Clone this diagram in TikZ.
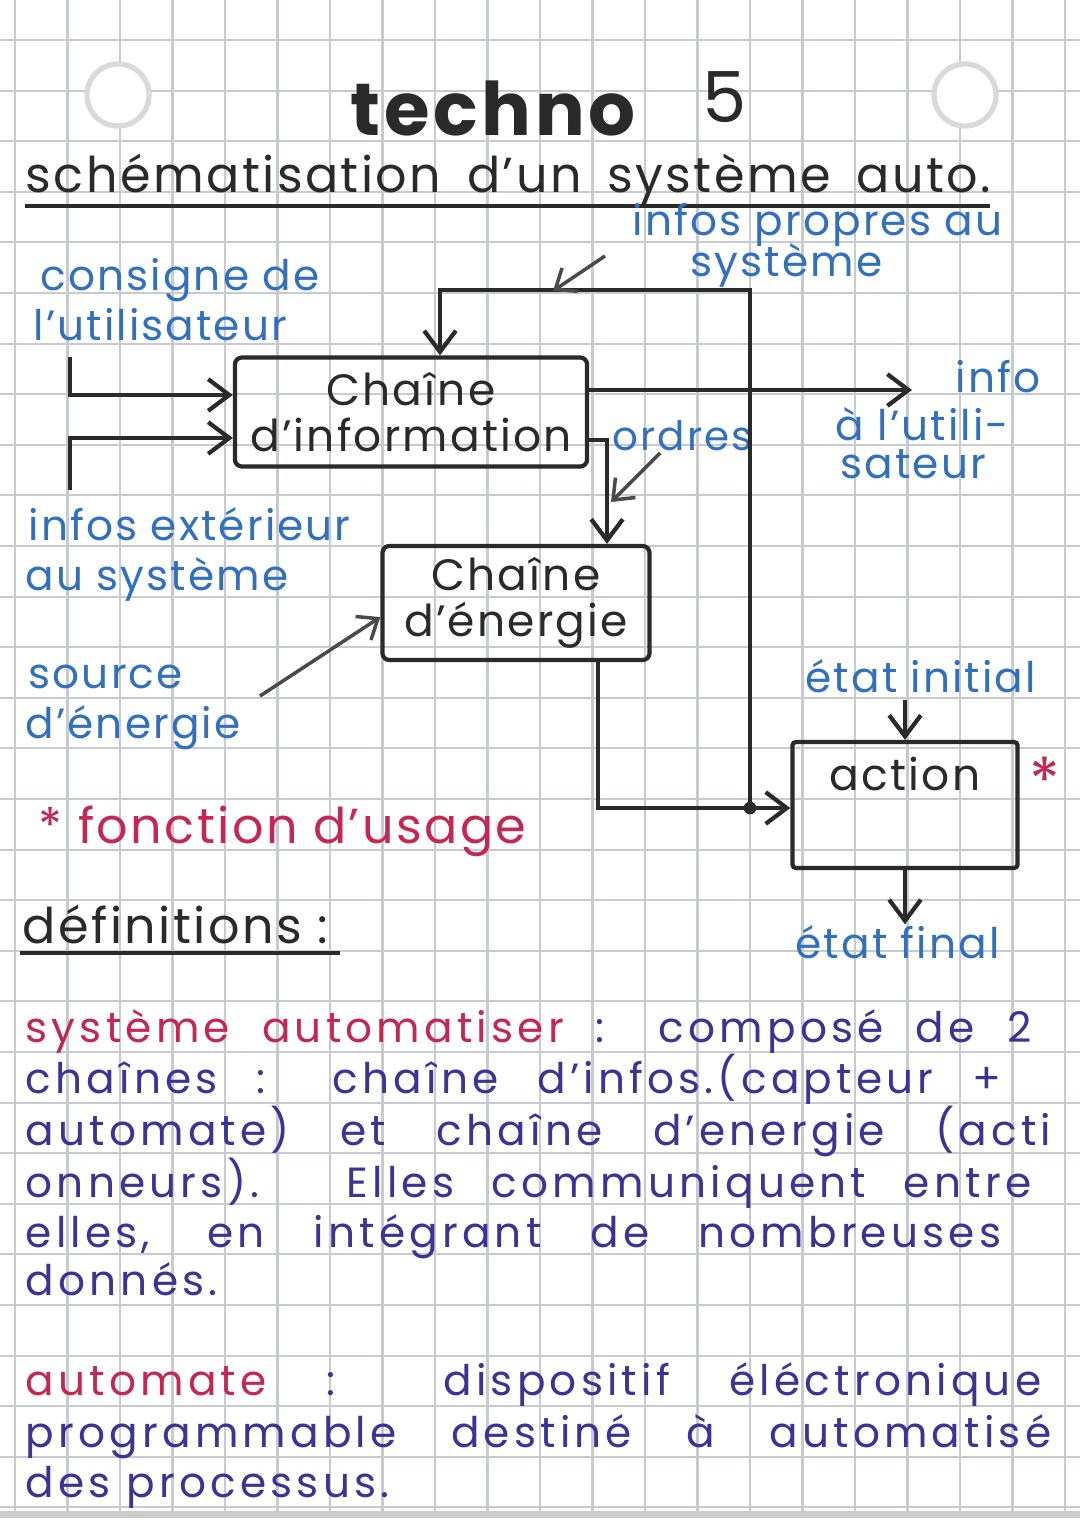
\documentclass[tikz,border=0pt]{standalone}
\usepackage{fontspec}
\setmainfont{Poppins}[LetterSpace=5]
\usetikzlibrary{arrows.meta, positioning}
\definecolor{inkblue}{RGB}{50, 112, 190}
\definecolor{inkred}{RGB}{196, 40, 82}
\definecolor{inkviolet}{RGB}{58, 52, 150}
\definecolor{inkblack}{RGB}{42, 42, 42}
\definecolor{gridgray}{RGB}{200, 202, 210}
\newcommand{\handline}[2]{\makebox[#1][s]{#2}}

\begin{document}
\begin{tikzpicture}[x=0.01cm, y=-0.01cm,
    paperline/.style={gridgray, line width=0.6pt},
    hole/.style={circle, fill=white, draw=gray!30, line width=1.5pt, minimum size=0.62cm},
    chain/.style={rectangle, draw=inkblack, line width=1.2pt, rounded corners=2pt, minimum width=3.52cm, minimum height=1.09cm, align=center, text=inkblack, font=\fontsize{12.5}{13}\selectfont},
    lbl/.style={anchor=base west, inner sep=0pt, text=inkblue, font=\fontsize{12}{14}\selectfont},
    note/.style={anchor=base west, inner sep=0pt, text=inkviolet, font=\fontsize{12}{14}\selectfont\addfontfeature{LetterSpace=10}},
    flow/.style={draw=inkblack, line width=1.2pt, -{Straight Barb[length=6pt, width=9pt]}},
    hint/.style={draw=inkblack!85, line width=1pt, -{Straight Barb[length=5pt, width=8pt]}}
  ]
  \useasboundingbox (0,0) rectangle (1080,1527);
  \fill[white] (0,0) rectangle (1080,1527);
  \foreach \i in {0,...,20}
    \draw[paperline] ({15+52.5*\i},0) -- ({15+52.5*\i},1512);
  \foreach \j in {0,...,29}
    \draw[paperline] (0,{40+50.6*\j}) -- (1080,{40+50.6*\j});
  \draw[gray!40, line width=2pt] (0,1514) -- (1080,1514);

  \node[hole] (holeL) at (118,95) {};
  \node[hole] (holeR) at (965,95) {};

  \node[anchor=base west, inner sep=0pt, text=inkblack, font=\fontsize{21}{24}\selectfont\bfseries] (title) at (350,135) {techno};
  \node[anchor=base west, inner sep=0pt, text=inkblack, font=\fontsize{20}{24}\selectfont] (num) at (702,122) {5};
  \node[anchor=base west, inner sep=0pt, text=inkblack, font=\fontsize{14}{16}\selectfont] (subtitle) at (25,192) {\handline{96.5mm}{schématisation d'un système auto.}};
  \draw[inkblack, line width=1.2pt] (25,206) -- (990,206);

  \node[lbl] (propres) at (632,235) {infos propres au};
  \node[lbl] (propres2) at (690,276) {système};
  \node[lbl] (consigne) at (40,290) {consigne de};
  \node[lbl] (consigne2) at (33,340) {l'utilisateur};
  \node[lbl] (infout) at (955,392) {info};
  \node[lbl] (infout2) at (835,440) {à l'utili-};
  \node[lbl] (infout3) at (840,478) {sateur};
  \node[lbl, font=\fontsize{11.5}{14}\selectfont] (ordres) at (612,450) {ordres};
  \node[lbl] (exterieur) at (28,540) {infos extérieur};
  \node[lbl] (exterieur2) at (25,590) {au système};
  \node[lbl] (source) at (28,688) {source};
  \node[lbl] (source2) at (25,738) {d'énergie};
  \node[lbl] (etatinit) at (805,692) {état initial};
  \node[lbl] (etatfin) at (795,958) {état final};

  \node[chain] (info) at (411,412) {Chaîne\\d'information};
  \node[chain, minimum width=2.67cm, minimum height=1.07cm] (ener) at (516,603) {Chaîne\\d'énergie};
  \node[chain, rounded corners=1pt, anchor=base, minimum width=2.25cm, minimum height=0pt, text height=4.8mm, text depth=7.8mm, inner ysep=0pt] (act) at (905,790) {action};
  \node[text=inkred, font=\fontsize{18}{18}\selectfont] (star) at (1045,780) {*};

  \coordinate (cin) at (70,357);
  \coordinate (cbend) at (70,395);
  \coordinate (xin) at (70,490);
  \coordinate (xbend) at (70,438);
  \coordinate (uout) at (912,390);
  \coordinate (ordc) at (607,440);
  \coordinate (jct) at (750,808);
  \coordinate (fbcorner) at (750,290);
  \coordinate (fbleft) at (440,290);
  \coordinate (eout) at (598,808);
  \coordinate (pp1) at (605,256);
  \coordinate (pp2) at (553,291);
  \coordinate (op1) at (660,453);
  \coordinate (op2) at (611,502);
  \coordinate (srcpt) at (260,696);

  \draw[flow] (cin) -- (cbend) -- (info.west |- cbend);
  \draw[flow] (xin) -- (xbend) -- (info.west |- xbend);
  \draw[flow] (info.east |- uout) -- (uout);
  \draw[flow] (info.east |- ordc) -- (ordc) -- (ordc |- ener.north);
  \draw[flow] (jct) -- (fbcorner) -- (fbleft) -- (fbleft |- info.north);
  \draw[flow] (eout |- ener.south) -- (eout) -- (act.west |- eout);
  \fill[inkblack] (jct) circle (1.8pt);
  \draw[flow] ([yshift=-2pt]act.north |- etatinit.south) -- (act.north);
  \draw[flow] (act.south) -- (act.south |- etatfin.north);
  \draw[hint] (pp1) -- (pp2);
  \draw[hint] (op1) -- (op2);
  \draw[hint] (srcpt) -- ([yshift=-4pt]ener.west);

  \node[anchor=base west, inner sep=0pt, text=inkred, font=\fontsize{14}{16}\selectfont] (usage) at (38,843) {* fonction d'usage};
  \node[anchor=base west, inner sep=0pt, text=inkblack, font=\fontsize{14}{16}\selectfont] (defs) at (22,943) {définitions :};
  \draw[inkblack, line width=1.2pt] (20,953) -- (340,953);

  \node[note] (sys1) at (25,1042) {\handline{100.5mm}{\textcolor{inkred}{système automatiser} : composé de 2}};
  \node[note] (sys2) at (25,1093) {\handline{97.5mm}{chaînes : chaîne d'infos.(capteur +}};
  \node[note] (sys3) at (25,1145) {\handline{102.5mm}{automate) et chaîne d'energie (acti}};
  \node[note] (sys4) at (25,1197) {\handline{100.5mm}{onneurs). Elles communiquent entre}};
  \node[note] (sys5) at (25,1247) {\handline{97.5mm}{elles, en intégrant de nombreuses}};
  \node[note] (sys6) at (25,1295) {donnés.};

  \node[note] (auto1) at (25,1395) {\handline{101.5mm}{\textcolor{inkred}{automate} : dispositif éléctronique}};
  \node[note] (auto2) at (25,1447) {\handline{102.5mm}{programmable destiné à automatisé}};
  \node[note] (auto3) at (25,1497) {des processus.};
\end{tikzpicture}
\end{document}
